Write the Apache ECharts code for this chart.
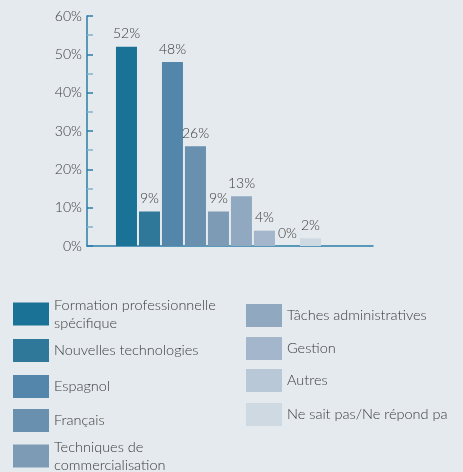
<!DOCTYPE html>
<html>
<head>
<meta charset="utf-8">
<script src="https://cdn.jsdelivr.net/npm/echarts@6/dist/echarts.min.js"></script>
<style>
  html, body { margin:0; padding:0; background:#e5eaee; }
  #main { width:463px; height:472px; }
</style>
</head>
<body>
<div id="main"></div>
<script>
  // données
  var categories = ['Formation professionnelle spécifique', 'Nouvelles technologies', 'Espagnol', 'Français',
    'Techniques de commercialisation', 'Tâches administratives', 'Gestion', 'Autres', 'Ne sait pas/Ne répond pa'];
  var values = [52, 9, 48, 26, 9, 13, 4, 0, 2];
  var colors = ['#1b7297', '#2f7899', '#5386aa', '#6990ae', '#7e9bb6', '#91a9c0', '#a3b6cb', '#b9c8d7', '#cfd9e2'];
  var yTicks = [0, 10, 20, 30, 40, 50, 60];

  // texte de légende sur deux lignes
  var legendText = {
    'Formation professionnelle spécifique': 'Formation professionnelle\nspécifique',
    'Techniques de commercialisation': 'Techniques de\ncommercialisation'
  };
  var legendPos = [
    [13, 296], [13, 339], [13, 375], [13, 409], [13, 438],
    [246, 304], [246, 337], [246, 369], [246, 403]
  ];
  var fontF = 'Lato';
  var txtColor = '#3a3a3a';

  var myChart = echarts.init(document.getElementById('main'));

  var series = [];
  var legends = [];
  for (var i = 0; i < categories.length; i++) {
    series.push({
      name: categories[i],
      type: 'bar',
      barWidth: 21,
      barGap: '-100%',
      itemStyle: { color: colors[i] },
      label: {
        show: true, position: 'top', distance: 6,
        color: txtColor, fontSize: 14, fontFamily: fontF, fontWeight: 300,
        formatter: function (p) { return p.value[1] + '%'; }
      },
      data: [[i, values[i]]]
    });
    legends.push({
      data: [categories[i]],
      left: legendPos[i][0], top: legendPos[i][1],
      padding: 0,
      itemWidth: 36, itemHeight: 23, itemGap: 5,
      icon: 'rect',
      selectedMode: false,
      formatter: function (n) { return legendText[n] || n; },
      textStyle: { color: txtColor, fontSize: 14.5, fontFamily: fontF, fontWeight: 300, lineHeight: 18 }
    });
  }

  var option = {
    backgroundColor: '#e5eaee',
    animation: false,
    grid: { left: 87, top: 16, width: 286, height: 230 },
    legend: legends,
    xAxis: {
      type: 'value',
      min: -1.717, max: 10.72,
      axisLine: { show: true, lineStyle: { color: '#2a7ea6', width: 1.5 } },
      axisTick: { show: false },
      axisLabel: { show: false },
      splitLine: { show: false }
    },
    yAxis: {
      type: 'value',
      min: yTicks[0], max: yTicks[yTicks.length - 1], interval: 10,
      axisLine: { show: true, onZero: false, lineStyle: { color: '#2a7ea6', width: 1.5 } },
      axisTick: { show: true, inside: true, length: 6, lineStyle: { color: '#2a7ea6', width: 1.5 } },
      minorTick: { show: true, splitNumber: 2, length: 6, lineStyle: { color: '#7fb3cf', width: 1.5 } },
      axisLabel: { formatter: '{value}%', color: txtColor, fontSize: 14, fontFamily: fontF, fontWeight: 300, margin: 5 },
      splitLine: { show: false }
    },
    series: series
  };

  myChart.setOption(option);
</script>
</body>
</html>
